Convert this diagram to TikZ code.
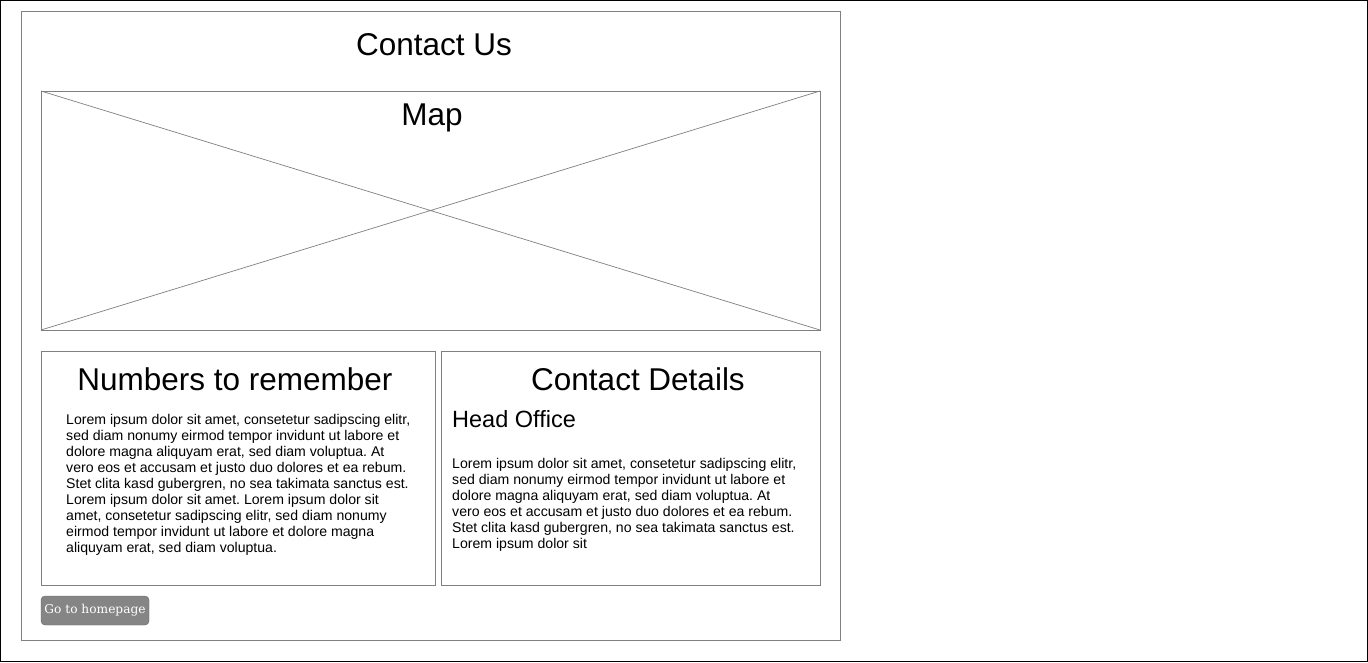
\documentclass[tikz,border=0pt]{standalone}
\usepackage{fontspec}
\setmainfont{Liberation Sans}
\newfontfamily\btnfont{DejaVu Serif}
\frenchspacing
\begin{document}
\begin{tikzpicture}[x=1pt,y=-1pt,
  frame/.style={draw=black!50,line width=0.9pt},
  bigtitle/.style={inner sep=0pt,anchor=base,font=\fontsize{31.5}{36}\selectfont},
  subtitle/.style={inner sep=0pt,anchor=base west,font=\fontsize{23.5}{28}\selectfont},
  bodytext/.style={inner sep=0pt,anchor=base west,align=left,font=\fontsize{14.1}{16}\selectfont},
  button/.style={draw=black!60,fill=black!48,rounded corners=4pt,text=white,inner sep=0pt,font=\btnfont\fontsize{12.2}{14}\selectfont}]
\draw[black,line width=1.2pt,fill=white] (0.6,0.6) rectangle (1367.4,661.4);
\useasboundingbox (0,0) rectangle (1368,662);
\draw[frame] (21,11) rectangle (840,640);
\node[bigtitle] (title) at (434,55) {Contact Us};
% map
\draw[frame] (41,91) coordinate (mapnw) rectangle (820,330) coordinate (mapse);
\coordinate (mapne) at (820,91);
\coordinate (mapsw) at (41,330);
\draw[black!50,line width=0.7pt] (mapnw) -- (mapse) (mapne) -- (mapsw);
\node[bigtitle] (map) at (432,125) {Map};
% left panel
\draw[frame] (41,351) rectangle (435,585);
\node[bigtitle] (numbers) at (235,390) {Numbers to remember};
\node[bodytext] (numtext) at (66,552) {Lorem ipsum dolor sit amet, consetetur sadipscing elitr,\\
sed diam nonumy eirmod tempor invidunt ut labore et\\
dolore magna aliquyam erat, sed diam voluptua. At\\
vero eos et accusam et justo duo dolores et ea rebum.\\
Stet clita kasd gubergren, no sea takimata sanctus est.\\
Lorem ipsum dolor sit amet. Lorem ipsum dolor sit\\
amet, consetetur sadipscing elitr, sed diam nonumy\\
eirmod tempor invidunt ut labore et dolore magna\\
aliquyam erat, sed diam voluptua.};
% right panel
\draw[frame] (441,351) rectangle (820,585);
\node[bigtitle] (details) at (638,390) {Contact Details};
\node[subtitle] (head) at (452,427) {Head Office};
\node[bodytext] (detailtext) at (452,548) {Lorem ipsum dolor sit amet, consetetur sadipscing elitr,\\
sed diam nonumy eirmod tempor invidunt ut labore et\\
dolore magna aliquyam erat, sed diam voluptua. At\\
vero eos et accusam et justo duo dolores et ea rebum.\\
Stet clita kasd gubergren, no sea takimata sanctus est.\\
Lorem ipsum dolor sit};
% button
\node[button,minimum width=108pt,minimum height=29pt] (home) at (95,610.5) {Go to homepage};
\end{tikzpicture}
\end{document}
